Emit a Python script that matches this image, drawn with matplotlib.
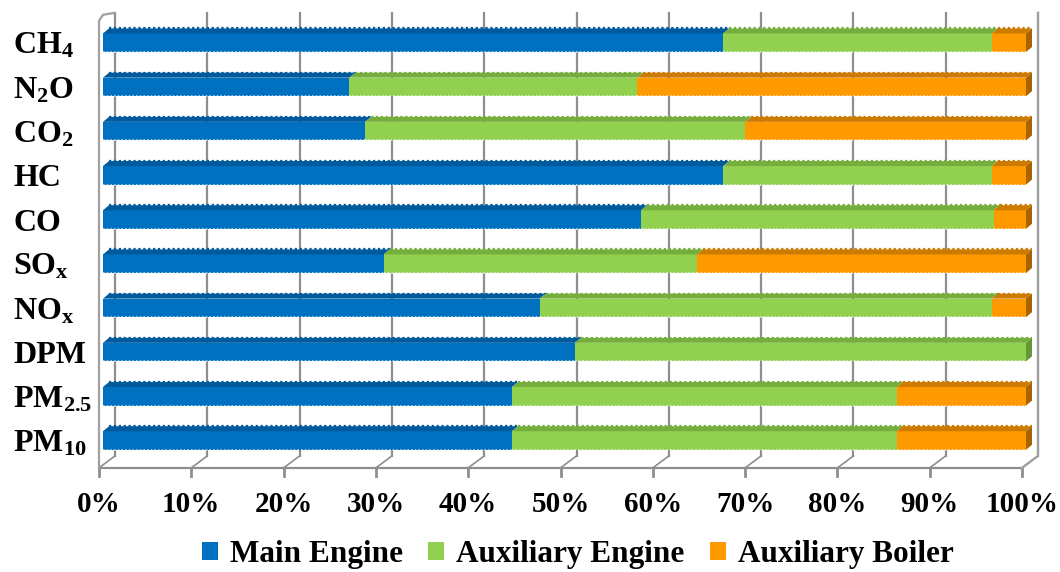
import matplotlib
matplotlib.use("Agg")
import matplotlib.pyplot as plt
from matplotlib.patches import Polygon, Patch
from matplotlib.lines import Line2D
from matplotlib.transforms import IdentityTransform

plt.rcParams["font.family"] = ["Liberation Serif", "DejaVu Serif"]
plt.rcParams["font.weight"] = "bold"
plt.rcParams["mathtext.fontset"] = "custom"
plt.rcParams["mathtext.rm"] = "Liberation Serif:bold"
plt.rcParams["mathtext.it"] = "Liberation Serif:bold"
plt.rcParams["mathtext.bf"] = "Liberation Serif:bold"

# Emission share by source (%), listed top to bottom
categories = ["CH$_4$", "N$_2$O", "CO$_2$", "HC", "CO", "SO$_\\mathrm{x}$",
              "NO$_\\mathrm{x}$", "DPM", "PM$_{2.5}$", "PM$_{10}$"]
main_engine = [67.2, 26.7, 28.4, 67.2, 58.3, 30.4, 47.3, 51.1, 44.3, 44.3]
aux_engine = [29.1, 31.2, 41.2, 29.1, 38.2, 34.0, 49.0, 48.9, 41.7, 41.7]
aux_boiler = [3.7, 42.1, 30.4, 3.7, 3.5, 35.6, 3.7, 0.0, 14.0, 14.0]
series_names = ["Main Engine", "Auxiliary Engine", "Auxiliary Boiler"]
x_ticks = [0, 10, 20, 30, 40, 50, 60, 70, 80, 90, 100]

front_cols = ["#0070C0", "#92D050", "#FF9900"]
top_cols = ["#005A9C", "#76AE3E", "#CC7A00"]
side_cols = ["#004E88", "#66983A", "#A86400"]
grid_col = "#8E8E8E"

W, H = 1060, 572
fig = plt.figure(figsize=(W / 100, H / 100), dpi=100)
ax_left, ax_right = 103, 1026
ax_top, ax_bot = 11.8, 467.9
ax = fig.add_axes([ax_left / W, (H - ax_bot) / H,
                   (ax_right - ax_left) / W, (ax_bot - ax_top) / H])
n = len(categories)
ys = [n - 1 - i for i in range(n)]
ax.set_xlim(0, 100)
ax.set_ylim(-0.62, 9.7)
for s in ax.spines.values():
    s.set_visible(False)
ax.set_xticks([])
ax.set_yticks(ys)
ax.set_yticklabels(categories, fontsize=23, fontweight="bold", ha="left")
ax.tick_params(axis="y", length=0, pad=(ax_left - 13) * 72 / 100)

bar_h = 0.42
dx, dy = 6, 5          # depth of the bar's top and side faces, px
back_dx, back_dy = 12, 12   # offset of the back wall from the front floor, px
front_dx = -4

T = ax.transData
ident = IdentityTransform()


def disp(x, y):
    return T.transform((x, y))


# back-wall gridlines and floor
floor_y = disp(0, -0.62)[1]
top_y = disp(0, 9.7)[1] - 1
for t in x_ticks:
    bx = disp(t, 0)[0] + back_dx
    fx = disp(t, 0)[0] + front_dx
    ax.add_line(Line2D([bx, bx], [floor_y + back_dy, top_y], transform=ident,
                       color=grid_col, lw=1.6, zorder=1, clip_on=False))
    ax.add_line(Line2D([fx, bx], [floor_y, floor_y + back_dy], transform=ident,
                       color=grid_col, lw=1.2, zorder=1, clip_on=False))
    ax.add_line(Line2D([fx, fx], [floor_y, floor_y - 8], transform=ident,
                       color=grid_col, lw=2.0, zorder=1, clip_on=False))
    ax.text(fx, H - 505, f"{t}%", transform=ident, ha="center", va="center",
            fontsize=21, fontweight="bold")

x0f = disp(0, 0)[0] + front_dx
x1f = disp(100, 0)[0] + front_dx
x0b = disp(0, 0)[0] + back_dx
x1b = disp(100, 0)[0] + back_dx
ax.add_line(Line2D([x0f, x1f], [floor_y, floor_y], transform=ident,
                   color=grid_col, lw=1.6, zorder=1, clip_on=False))
ax.add_line(Line2D([x0f, x0f, x0f + 4, x0b], [floor_y, top_y - 8, top_y - 2, top_y],
                   transform=ident, color="#A0A0A0", lw=1.6, zorder=1, clip_on=False))
ax.add_line(Line2D([x1b, x1b, x1f], [top_y, floor_y + back_dy, floor_y],
                   transform=ident, color="#A0A0A0", lw=1.6, zorder=1, clip_on=False))

# stacked 3-D bars
series = [main_engine, aux_engine, aux_boiler]
for i, y in enumerate(ys):
    left = 0.0
    vals = [s[i] for s in series]
    last = max(k for k, v in enumerate(vals) if v > 0)
    for k, v in enumerate(vals):
        if v <= 0:
            continue
        ax.barh(y, v, left=left, height=bar_h, color=front_cols[k],
                linewidth=0, zorder=3)
        (lx, ty) = disp(left, y + bar_h / 2)
        (rx, by) = disp(left + v, y - bar_h / 2)
        top = Polygon([(lx, ty), (rx, ty), (rx + dx, ty + dy), (lx + dx, ty + dy)],
                      closed=True, transform=ident, facecolor=top_cols[k],
                      edgecolor="none", zorder=3, clip_on=False)
        ax.add_patch(top)
        # scalloped rim along the top edge
        ax.add_line(Line2D([lx + dx, rx + dx], [ty + dy, ty + dy], transform=ident,
                           color=top_cols[k], lw=1.6, ls=(0, (1, 1.2)),
                           zorder=3, clip_on=False))
        ax.add_line(Line2D([lx, rx], [by, by], transform=ident,
                           color="white", lw=1.2, ls=(0, (1, 1.2)), alpha=0.7,
                           zorder=4, clip_on=False))
        if k == last:
            side = Polygon([(rx, by), (rx, ty), (rx + dx, ty + dy), (rx + dx, by + dy)],
                           closed=True, transform=ident, facecolor=side_cols[k],
                           edgecolor="none", zorder=3, clip_on=False)
            ax.add_patch(side)
        left += v

handles = [Patch(facecolor=c, edgecolor="none") for c in front_cols]
fig.legend(handles, series_names, loc="center", bbox_to_anchor=(0.545, 0.03),
           ncol=3, frameon=False,
           prop={"family": "Liberation Serif", "weight": "bold", "size": 22.5},
           handlelength=0.5, handleheight=0.5, handletextpad=0.38, columnspacing=0.83)

fig.savefig("out.png", dpi=100)
